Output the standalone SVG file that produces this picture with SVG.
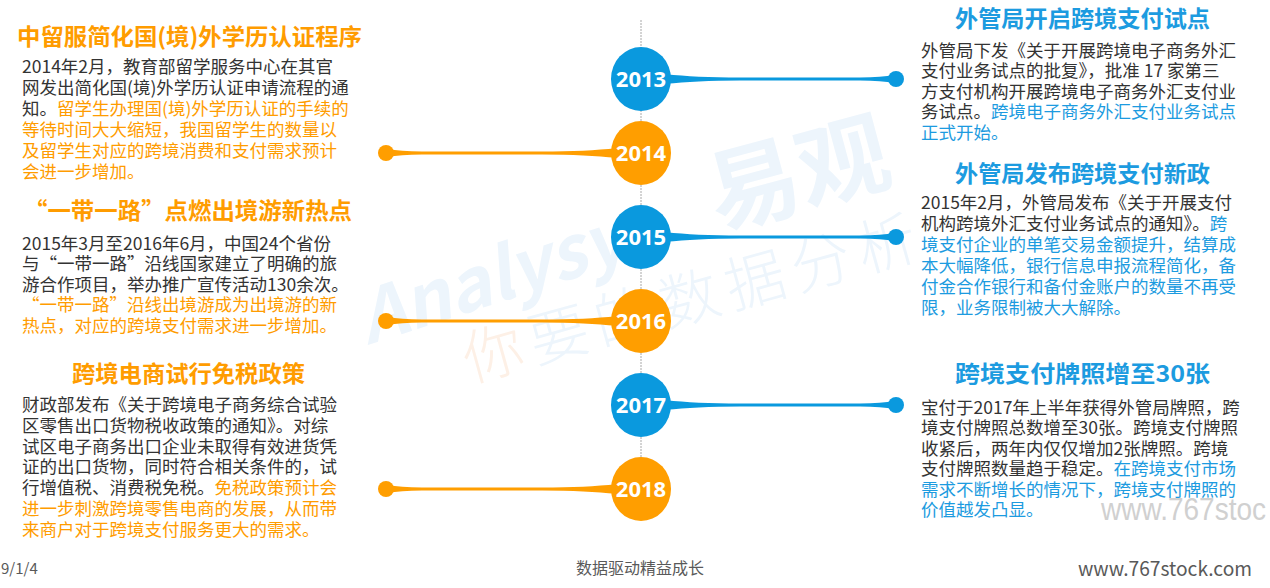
<svg xmlns="http://www.w3.org/2000/svg" xmlns:xlink="http://www.w3.org/1999/xlink" width="1270" height="588" viewBox="0 0 1270 588">
<style>
.body{font-family:"Noto Sans CJK SC","Microsoft YaHei",sans-serif;font-size:17.5px;fill:#333333;}
.ttl{font-family:"Noto Sans CJK SC","Microsoft YaHei",sans-serif;font-size:23px;font-weight:bold;}
.to{fill:#FF9C00;}
.tb{fill:#1C9BE0;}
.yr{font-family:"Open Sans","Noto Sans",sans-serif;font-size:22px;font-weight:bold;fill:#ffffff;text-anchor:middle;}
.cb{fill:#0A99DE;}
.co{fill:#FF9E00;}
.wm{font-family:"Noto Sans CJK SC",sans-serif;fill:#EDF5FC;}
.foot{font-family:"Noto Sans CJK SC","Liberation Sans",sans-serif;fill:#595959;}
</style>
<defs>
<g id="connR">
<path d="M 666 -4.8 Q 695 -1.7 740 -1.4 L 860 -1.4 Q 882 -1.7 894 -4 L 894 4 Q 882 1.7 860 1.4 L 740 1.4 Q 695 1.7 666 4.8 Z"/>
<circle cx="896" cy="0" r="8"/>
</g>
</defs>
<rect x="0" y="0" width="1270" height="588" fill="#ffffff"/>

<g id="watermark">
<text class="wm" transform="translate(368,345) rotate(-18)" font-family="Liberation Sans" font-size="72" font-weight="bold" font-style="italic">Analysys</text>
<text class="wm" transform="translate(718,229) rotate(-15)" font-size="92" font-weight="bold">易观</text>
<text class="wm" transform="translate(470,382) rotate(-15.5)" font-size="60" font-weight="300" letter-spacing="8"><tspan fill="#FDF0E6">你</tspan>要的数据分析</text>
<text transform="translate(1101,520)" font-family="Liberation Sans" font-size="32" fill="#D0D0D0" textLength="165" lengthAdjust="spacingAndGlyphs">www.767stoc</text>
</g>

<line id="axis" x1="641" y1="20" x2="641" y2="489" stroke="#A8A8A8" stroke-width="1" stroke-dasharray="2,1"/>

<g id="connectors">
<use xlink:href="#connR" class="cb" transform="translate(0,79)"/>
<use xlink:href="#connR" class="co" transform="translate(1282,153) scale(-1,1)"/>
<use xlink:href="#connR" class="cb" transform="translate(0,237)"/>
<use xlink:href="#connR" class="co" transform="translate(1282,321) scale(-1,1)"/>
<use xlink:href="#connR" class="cb" transform="translate(0,405)"/>
<use xlink:href="#connR" class="co" transform="translate(1282,489) scale(-1,1)"/>
</g>

<g id="node-2013"><ellipse class="cb" cx="641" cy="79" rx="30" ry="32"/><text class="yr" x="641" y="87">2013</text></g>
<g id="node-2014"><ellipse class="co" cx="641" cy="153" rx="30" ry="32"/><text class="yr" x="641" y="161">2014</text></g>
<g id="node-2015"><ellipse class="cb" cx="641" cy="237" rx="30" ry="32"/><text class="yr" x="641" y="245">2015</text></g>
<g id="node-2016"><ellipse class="co" cx="641" cy="321" rx="30" ry="32"/><text class="yr" x="641" y="329">2016</text></g>
<g id="node-2017"><ellipse class="cb" cx="641" cy="405" rx="30" ry="32"/><text class="yr" x="641" y="413">2017</text></g>
<g id="node-2018"><ellipse class="co" cx="641" cy="489" rx="30" ry="32"/><text class="yr" x="641" y="497">2018</text></g>

<g id="event-2014">
<text class="ttl to" x="17" y="45.4" textLength="345" lengthAdjust="spacingAndGlyphs">中留服简化国(境)外学历认证程序</text>
<text class="body" x="22" y="73">2014年2月，教育部留学服务中心在其官</text>
<text class="body" x="22" y="94">网发出简化国(境)外学历认证申请流程的通</text>
<text class="body" x="22" y="115">知。<tspan class="to">留学生办理国(境)外学历认证的手续的</tspan></text>
<text class="body to" x="22" y="136">等待时间大大缩短，我国留学生的数量以</text>
<text class="body to" x="22" y="157">及留学生对应的跨境消费和支付需求预计</text>
<text class="body to" x="22" y="178">会进一步增加。</text>
</g>

<g id="event-2016">
<text class="ttl to" x="24" y="218.7" textLength="328" lengthAdjust="spacingAndGlyphs">“一带一路”点燃出境游新热点</text>
<text class="body" x="22" y="249.5">2015年3月至2016年6月，中国24个省份</text>
<text class="body" x="22" y="270">与“一带一路”沿线国家建立了明确的旅</text>
<text class="body" x="22" y="290.5">游合作项目，举办推广宣传活动130余次。</text>
<text class="body to" x="22" y="311">“一带一路”沿线出境游成为出境游的新</text>
<text class="body to" x="22" y="331.5">热点，对应的跨境支付需求进一步增加。</text>
</g>

<g id="event-2018">
<text class="ttl to" x="72" y="381.7" textLength="233" lengthAdjust="spacingAndGlyphs">跨境电商试行免税政策</text>
<text class="body" x="22" y="411">财政部发布《关于跨境电子商务综合试验</text>
<text class="body" x="22" y="431.8">区零售出口货物税收政策的通知》。对综</text>
<text class="body" x="22" y="452.6">试区电子商务出口企业未取得有效进货凭</text>
<text class="body" x="22" y="473.4">证的出口货物，同时符合相关条件的，试</text>
<text class="body" x="22" y="494.2">行增值税、消费税免税。<tspan class="to">免税政策预计会</tspan></text>
<text class="body to" x="22" y="515">进一步刺激跨境零售电商的发展，从而带</text>
<text class="body to" x="22" y="535.8">来商户对于跨境支付服务更大的需求。</text>
</g>

<g id="event-2013">
<text class="ttl tb" x="955" y="26.7" textLength="255" lengthAdjust="spacingAndGlyphs">外管局开启跨境支付试点</text>
<text class="body" x="921" y="56.5">外管局下发《关于开展跨境电子商务外汇</text>
<text class="body" x="921" y="77">支付业务试点的批复》，批准 17 家第三</text>
<text class="body" x="921" y="97.5">方支付机构开展跨境电子商务外汇支付业</text>
<text class="body" x="921" y="118">务试点。<tspan class="tb">跨境电子商务外汇支付业务试点</tspan></text>
<text class="body tb" x="921" y="138.5">正式开始。</text>
</g>

<g id="event-2015">
<text class="ttl tb" x="955" y="181.7" textLength="255" lengthAdjust="spacingAndGlyphs">外管局发布跨境支付新政</text>
<text class="body" x="921" y="209">2015年2月，外管局发布《关于开展支付</text>
<text class="body" x="921" y="230">机构跨境外汇支付业务试点的通知》。<tspan class="tb">跨</tspan></text>
<text class="body tb" x="921" y="251">境支付企业的单笔交易金额提升，结算成</text>
<text class="body tb" x="921" y="272">本大幅降低，银行信息申报流程简化，备</text>
<text class="body tb" x="921" y="293">付金合作银行和备付金账户的数量不再受</text>
<text class="body tb" x="921" y="314">限，业务限制被大大解除。</text>
</g>

<g id="event-2017">
<text class="ttl tb" x="955" y="381.7" textLength="255" lengthAdjust="spacingAndGlyphs">跨境支付牌照增至30张</text>
<text class="body" x="921" y="413.5">宝付于2017年上半年获得外管局牌照，跨</text>
<text class="body" x="921" y="434">境支付牌照总数增至30张。跨境支付牌照</text>
<text class="body" x="921" y="454.5">收紧后，两年内仅仅增加2张牌照。跨境</text>
<text class="body" x="921" y="475">支付牌照数量趋于稳定。<tspan class="tb">在跨境支付市场</tspan></text>
<text class="body tb" x="921" y="495.5">需求不断增长的情况下，跨境支付牌照的</text>
<text class="body tb" x="921" y="516">价值越发凸显。</text>
</g>

<g id="footer">
<text class="foot" x="1" y="574" font-family="Liberation Sans" font-size="15">9/1/4</text>
<text class="foot" x="640" y="574" font-size="16" text-anchor="middle">数据驱动精益成长</text>
<text class="foot" x="1078" y="576" font-family="Liberation Sans" font-size="20" fill="#6E6E6E" textLength="174" lengthAdjust="spacingAndGlyphs">www.767stock.com</text>
</g>
</svg>
